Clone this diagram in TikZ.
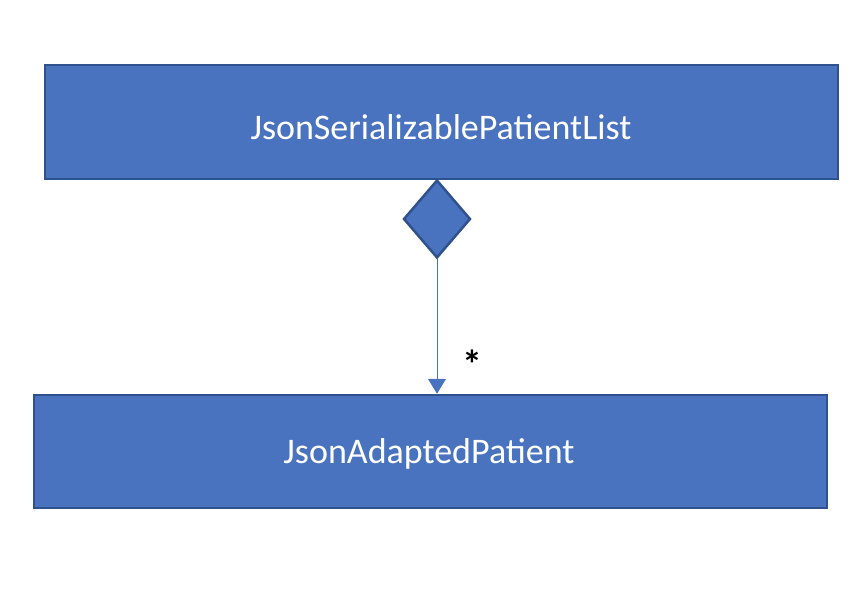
\documentclass[tikz,border=0pt]{standalone}
\usepackage{fontspec}
\setmainfont{Carlito}
\usetikzlibrary{arrows.meta,shapes.geometric}
\definecolor{boxfill}{HTML}{4A73BF}
\definecolor{boxline}{HTML}{2F528F}
\tikzset{
  classbox/.style={draw=boxline,fill=boxfill,line width=2.5pt,text=white,font=\fontsize{36}{40}\selectfont,inner sep=0pt},
  aggdiamond/.style={diamond,draw=boxline,fill=boxfill,line width=2.5pt,inner sep=0pt,minimum width=67pt,minimum height=78pt,aspect=0.86},
  link/.style={draw=boxfill,line width=1pt,-{Triangle[width=18pt,length=15pt]}}
}
\begin{document}
\begin{tikzpicture}[x=1pt,y=-1pt]
\useasboundingbox (0,0) rectangle (868,592);
\node[classbox,minimum width=793pt,minimum height=114pt] (top) at (441.5,122) {};
\node[text=white,font=\fontsize{36}{40}\selectfont,inner sep=0pt] (toplabel) at (441,127) {JsonSerializablePatientList};
\node[classbox,minimum width=793pt,minimum height=113pt] (bot) at (430.5,451.5) {};
\node[text=white,font=\fontsize{36}{40}\selectfont,inner sep=0pt] (botlabel) at (429,454) {JsonAdaptedPatient};
\node[aggdiamond] (dia) at (437,219) {};
\draw[link] (dia.south) -- (dia.south |- bot.north);
\node[font=\bfseries\fontsize{40}{44}\selectfont,inner sep=0pt] (mult) at (472,364) {*};
\end{tikzpicture}
\end{document}
